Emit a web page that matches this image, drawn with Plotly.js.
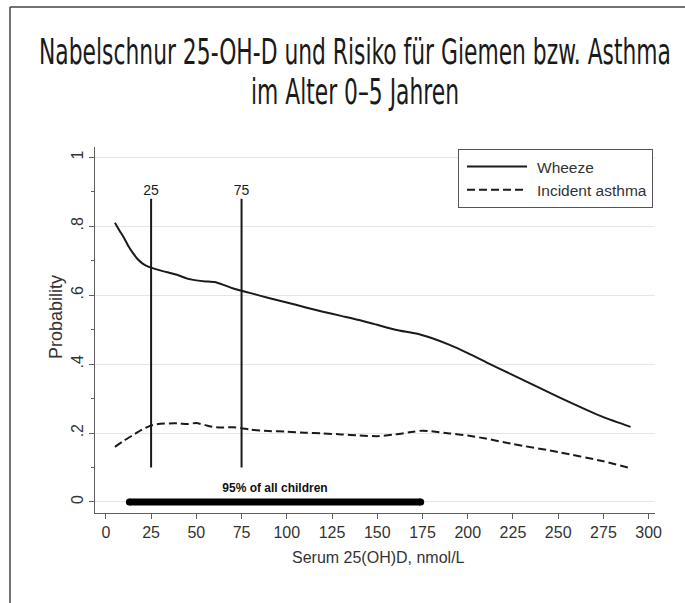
<!DOCTYPE html>
<html>
<head>
<meta charset="utf-8">
<script src="https://cdn.plot.ly/plotly-3.0.1.min.js"></script>
<style>html,body{margin:0;padding:0;background:#fff;}#chart{width:685px;height:603px;}</style>
</head>
<body>
<div id="chart"></div>
<script>
const wheezeX = [5, 7.5, 10, 12.5, 15, 17.5, 20, 22.5, 25, 30, 35, 40, 45, 50, 55, 60, 65, 70, 75, 80, 90, 100, 110, 120, 130, 140, 150, 160, 170, 175, 180, 190, 200, 210, 225, 250, 275, 290];
const wheezeY = [0.81, 0.788, 0.767, 0.742, 0.722, 0.705, 0.693, 0.685, 0.680, 0.672, 0.665, 0.658, 0.648, 0.643, 0.640, 0.638, 0.630, 0.620, 0.613, 0.606, 0.592, 0.579, 0.565, 0.552, 0.540, 0.528, 0.514, 0.500, 0.490, 0.484, 0.476, 0.456, 0.432, 0.406, 0.368, 0.305, 0.246, 0.218];
const asthmaX = [5, 10, 15, 20, 25, 30, 35, 40, 45, 50, 55, 60, 65, 70, 75, 80, 90, 100, 110, 120, 130, 140, 150, 160, 170, 175, 180, 190, 200, 210, 225, 250, 275, 290];
const asthmaY = [0.160, 0.178, 0.194, 0.210, 0.222, 0.227, 0.228, 0.228, 0.226, 0.229, 0.223, 0.217, 0.216, 0.217, 0.214, 0.210, 0.206, 0.204, 0.201, 0.199, 0.196, 0.193, 0.191, 0.196, 0.204, 0.207, 0.205, 0.199, 0.193, 0.184, 0.168, 0.145, 0.118, 0.098];
const seriesNames = ['Wheeze', 'Incident asthma'];
const refLineX = [25, 75];
const refLineY = [0.1, 0.88];
const refLabels = ['25', '75'];
const refLabelY = 0.9;
const rangeBarX = [13, 174];
const rangeBarY = 0;
const rangeLabel = '95% of all children';
const rangeLabelY = 0.038;
const xTicks = [0, 25, 50, 75, 100, 125, 150, 175, 200, 225, 250, 275, 300];
const yTicks = [0, 0.2, 0.4, 0.6, 0.8, 1];
const yTickText = ['0', '.2', '.4', '.6', '.8', '1'];
const yMinorTicks = [0.1, 0.3, 0.5, 0.7, 0.9];
const titleText = 'Nabelschnur 25-OH-D und Risiko für Giemen bzw. Asthma<br>im Alter 0–5 Jahren';
const xTitle = 'Serum 25(OH)D, nmol/L';
const yTitle = 'Probability';

const ink = '#1a1a1a';
const axisCol = '#5e5e5e';
const txt = '#333333';
const sans = 'Liberation Sans, Arial, sans-serif';
const titleSize = 35;

const traces = [];
refLineX.forEach(function (x) {
  traces.push({x: [x, x], y: refLineY, mode: 'lines', line: {color: ink, width: 2}, showlegend: false, hoverinfo: 'skip'});
});
traces.push({x: refLineX, y: refLineX.map(function () { return refLabelY; }), mode: 'text', text: refLabels,
  textfont: {family: sans, size: 14, color: ink}, textposition: 'middle center', showlegend: false, hoverinfo: 'skip'});
traces.push({x: rangeBarX, y: [rangeBarY, rangeBarY], mode: 'lines+markers', line: {color: '#000', width: 7},
  marker: {color: '#000', size: 7}, showlegend: false, hoverinfo: 'skip', cliponaxis: false});
traces.push({x: [(rangeBarX[0] + rangeBarX[1]) / 2], y: [rangeLabelY], mode: 'text', text: [rangeLabel],
  textfont: {family: sans, size: 12, color: '#111', weight: 'bold'}, textposition: 'middle center', showlegend: false, hoverinfo: 'skip'});
traces.push({x: wheezeX, y: wheezeY, name: seriesNames[0], mode: 'lines', line: {color: ink, width: 2, shape: 'spline', smoothing: 0.6}});
traces.push({x: asthmaX, y: asthmaY, name: seriesNames[1], mode: 'lines', line: {color: ink, width: 2, dash: '8px,4px', shape: 'spline', smoothing: 0.6}});

const L = 95, R = 30, T = 147, B = 90, W = 685, H = 603;
const pw = W - L - R, ph = H - T - B;
function px2paperX(p) { return (p - L) / pw; }
function px2paperY(p) { return (H - B - p) / ph; }

const layout = {
  width: W, height: H,
  margin: {l: L, r: R, t: T, b: B, pad: 0},
  paper_bgcolor: '#fff', plot_bgcolor: '#fff',
  title: {text: titleText, font: {family: 'DejaVu Sans Condensed, DejaVu Sans, sans-serif', size: titleSize, color: ink},
    x: 355 / W, xanchor: 'center', xref: 'container', y: 1 - 60 / H, yanchor: 'top', yref: 'container'},
  xaxis: {range: [-6, 303.5], tickmode: 'array', tickvals: xTicks, ticks: 'outside', ticklen: 5, tickcolor: axisCol,
    showline: true, linecolor: axisCol, linewidth: 1, showgrid: false, zeroline: false,
    tickfont: {family: sans, size: 16, color: txt}},
  yaxis: {range: [-0.032, 1.03], tickmode: 'array', tickvals: yTicks, ticktext: yTickText, tickangle: -90,
    ticks: 'outside', ticklen: 5, tickcolor: axisCol, showline: true, linecolor: axisCol, linewidth: 1,
    showgrid: true, gridcolor: '#e6e6e6', gridwidth: 1, zeroline: false,
    tickfont: {family: sans, size: 16, color: txt},
    minor: {tickvals: yMinorTicks, ticks: 'outside', ticklen: 3, tickcolor: axisCol, showgrid: false}},
  showlegend: true,
  legend: {x: px2paperX(458), y: px2paperY(149), xanchor: 'left', yanchor: 'top', bgcolor: '#fff',
    bordercolor: '#555', borderwidth: 1, font: {family: sans, size: 15.5, color: txt}, traceorder: 'normal',
    itemwidth: 68, tracegroupgap: 0},
  annotations: [
    {text: xTitle, xref: 'paper', yref: 'paper', x: px2paperX(378), y: px2paperY(557), xanchor: 'center', yanchor: 'middle',
      showarrow: false, font: {family: sans, size: 16, color: txt}},
    {text: yTitle, xref: 'paper', yref: 'paper', x: px2paperX(56), y: px2paperY(317), xanchor: 'center', yanchor: 'middle',
      textangle: -90, showarrow: false, font: {family: sans, size: 18, color: txt}}
  ],
  shapes: [
    {type: 'line', xref: 'paper', yref: 'paper', x0: px2paperX(10), x1: px2paperX(10), y0: px2paperY(7), y1: px2paperY(603), line: {color: '#444', width: 1.5}},
    {type: 'line', xref: 'paper', yref: 'paper', x0: px2paperX(10), x1: px2paperX(685), y0: px2paperY(7), y1: px2paperY(7), line: {color: '#444', width: 1.5}}
  ]
};

Plotly.newPlot('chart', traces, layout, {displayModeBar: false, staticPlot: true}).then(function () {
  // Legend: longer line samples, as in the reference
  document.querySelectorAll('.legend .legendlines path').forEach(function (p) {
    p.setAttribute('d', 'M8,0h60');
  });
  // Title: tighter line spacing and condensed lettering, centred like the reference
  const g = document.querySelector('.g-gtitle');
  const t = g && g.querySelector('text');
  if (!t) return;
  const lines = t.querySelectorAll('tspan.line');
  for (let i = 1; i < lines.length; i++) lines[i].setAttribute('dy', '1.17em');
  const bb = t.getBBox();
  const targetW = 632, targetCx = 355, baseline1 = 64;
  const sx = Math.min(1, targetW / bb.width);
  const tx = targetCx - (bb.x + bb.width / 2) * sx;
  const ty = baseline1 - (bb.y + 0.928 * titleSize);
  g.setAttribute('transform', 'translate(' + tx + ',' + ty + ') scale(' + sx + ',1)');
});
</script>
</body>
</html>
